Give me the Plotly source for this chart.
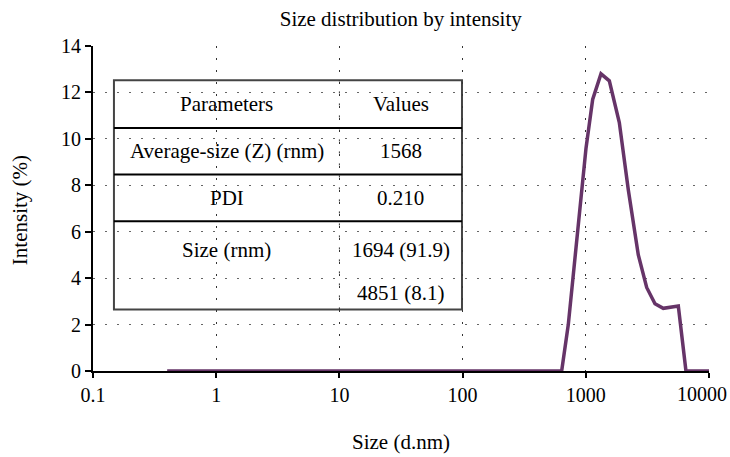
import plotly.graph_objects as go

sizes = [0.4, 637, 721, 944, 1004, 1137, 1328, 1552, 1871, 2214, 2668, 3120, 3645, 4256, 5636, 6501, 10000]
intensity = [0, 0, 2.0, 8.1, 9.6, 11.7, 12.8, 12.5, 10.7, 7.8, 5.0, 3.6, 2.9, 2.7, 2.8, 0, 0]

x_ticks = [0.1, 1, 10, 100, 1000, 10000]
x_tick_labels = ["0.1", "1", "10", "100", "1000", "10000"]
y_ticks = [0, 2, 4, 6, 8, 10, 12, 14]

table_params = ["Parameters", "Average-size (Z) (rnm)", "PDI", "Size (rnm)"]
table_values = ["Values", "1568", "0.210", "1694 (91.9)", "4851 (8.1)"]

FONT = "Liberation Serif, DejaVu Serif, serif"
TICK_SIZE = 20
fig = go.Figure()
fig.add_trace(go.Scatter(x=sizes, y=intensity, mode="lines",
                         line=dict(color="#663468", width=3.5),
                         cliponaxis=False, showlegend=False))

grid_dash = "2px,10px"
# last x tick label is placed as an annotation so it stays inside the page
shown_labels = x_tick_labels[:-1] + [""]
fig.update_xaxes(type="log", range=[-1, 4], tickvals=x_ticks, ticktext=shown_labels,
                 showgrid=True, gridcolor="#333", gridwidth=1, griddash=grid_dash,
                 showline=True, linecolor="black", linewidth=2,
                 ticks="outside", ticklen=5, tickwidth=2, tickcolor="black",
                 tickfont=dict(family=FONT, size=TICK_SIZE, color="black"),
                 ticklabeloverflow="allow",
                 automargin=False, zeroline=False)
fig.update_yaxes(range=[0, 14], tickvals=y_ticks,
                 showgrid=True, gridcolor="#666", gridwidth=1, griddash=grid_dash,
                 showline=True, linecolor="black", linewidth=2,
                 ticks="outside", ticklen=6, tickwidth=2, tickcolor="black",
                 tickfont=dict(family=FONT, size=TICK_SIZE, color="black"),
                 ticklabeloverflow="allow",
                 automargin=False, zeroline=False)
fig.add_annotation(text=x_tick_labels[-1], x=1.0, y=-0.072, xref="paper", yref="paper",
                   xanchor="right", yanchor="middle", xshift=20, showarrow=False,
                   font=dict(family=FONT, size=TICK_SIZE, color="black"))

# axis titles
fig.add_annotation(text="Size (d.nm)", x=0.5, y=-0.217, xref="paper", yref="paper",
                   xanchor="center", yanchor="middle", showarrow=False,
                   font=dict(family=FONT, size=21, color="black"))
fig.add_annotation(text="Intensity (%)", x=-0.1185, y=0.495, xref="paper", yref="paper",
                   xanchor="center", yanchor="middle", showarrow=False, textangle=-90,
                   font=dict(family=FONT, size=21, color="black"))

# table (paper coordinates)
L, R, C = 0.034, 0.599, 0.4
T, B = 0.895, 0.1895
rows = [T, 0.748, 0.6046, 0.4607]
fig.add_shape(type="rect", xref="paper", yref="paper", x0=L, x1=R, y0=B, y1=T,
              fillcolor="white", line=dict(color="#444", width=2), layer="between")
fig.add_shape(type="line", xref="paper", yref="paper", x0=C, x1=C, y0=B, y1=T,
              line=dict(color="#333", width=1, dash=grid_dash), layer="above")
for yy in rows[1:]:
    fig.add_shape(type="line", xref="paper", yref="paper", x0=L, x1=R, y0=yy, y1=yy,
                  line=dict(color="black", width=2), layer="above")

c1 = (L + C) / 2
c2 = (C + R) / 2
param_y = [(rows[0] + rows[1]) / 2, (rows[1] + rows[2]) / 2, (rows[2] + rows[3]) / 2, 0.372]
value_y = [(rows[0] + rows[1]) / 2, (rows[1] + rows[2]) / 2, (rows[2] + rows[3]) / 2, 0.372, 0.2405]
for t, yy in zip(table_params, param_y):
    fig.add_annotation(text=t, x=c1, y=yy, xref="paper", yref="paper", showarrow=False,
                       xanchor="center", yanchor="middle",
                       font=dict(family=FONT, size=21, color="black"))
for t, yy in zip(table_values, value_y):
    fig.add_annotation(text=t, x=c2, y=yy, xref="paper", yref="paper", showarrow=False,
                       xanchor="center", yanchor="middle",
                       font=dict(family=FONT, size=21, color="black"))

fig.update_layout(width=730, height=457, plot_bgcolor="white", paper_bgcolor="white",
                  margin=dict(l=93, r=21, t=46, b=86, autoexpand=False),
                  title=dict(text="Size distribution by intensity", x=0.549, xanchor="center",
                             y=0.96, yanchor="middle",
                             font=dict(family=FONT, size=21, color="black")))
fig.write_html("out.html")
